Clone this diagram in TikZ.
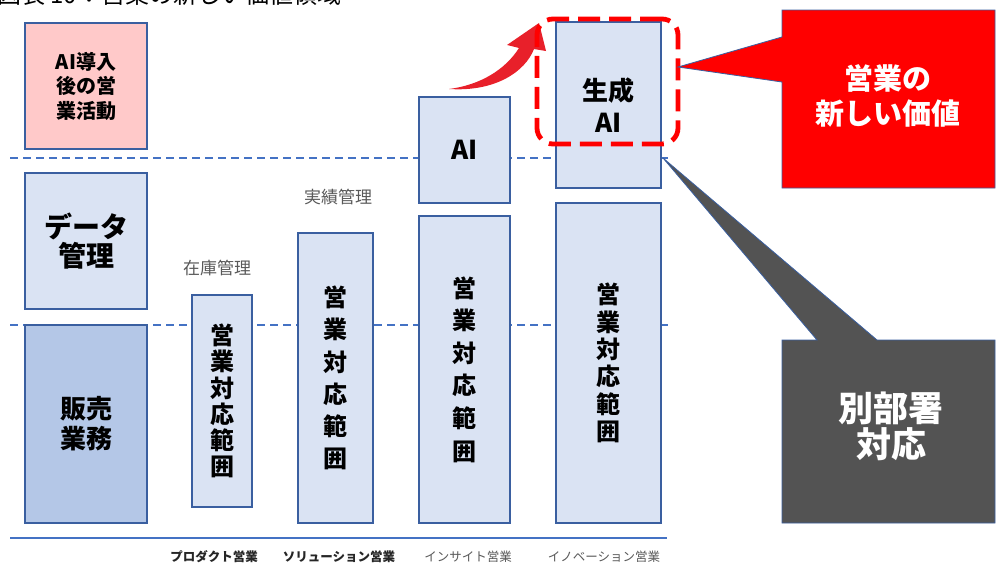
\documentclass[tikz,border=0pt]{standalone}
\usepackage{fontspec}
\setmainfont{Noto Sans CJK JP}
\definecolor{boxfill}{HTML}{DAE3F3}
\definecolor{boxdark}{HTML}{B4C7E7}
\definecolor{boxpink}{HTML}{FFC9C9}
\definecolor{boxline}{HTML}{3A5FA0}
\definecolor{guide}{HTML}{4472C4}
\definecolor{labelgray}{HTML}{595959}
\definecolor{labeldark}{HTML}{262626}
\definecolor{calloutgray}{HTML}{535353}
\definecolor{arrowred}{RGB}{232,32,42}
\tikzset{
  colbox/.style={draw=boxline, fill=boxfill, line width=1.4pt, inner sep=0pt, align=center, text=black},
  vtext/.style={font=\fontsize{24}{#1}\selectfont\bfseries},
  guideline/.style={draw=guide, line width=1.3pt, dash pattern=on 8pt off 5pt},
  baseline/.style={draw=guide, line width=2pt},
  toplabel/.style={font=\fontsize{17}{17}\selectfont, text=labelgray, inner sep=0pt},
  axislabel/.style={font=\fontsize{12.5}{12.5}\selectfont, inner sep=0pt},
  genframe/.style={draw=red, line width=4.8pt, dash pattern=on 22pt off 9pt, rounded corners=16pt, inner sep=0pt},
  calloutline/.style={draw=boxline, line width=0.8pt},
  callouttext/.style={text=white, align=center, inner sep=0pt}
}
\begin{document}
\begin{tikzpicture}[x=1pt,y=-1pt]
\useasboundingbox (0,0) rectangle (1000,565);
\clip (0,0) rectangle (1000,565);
\fill[white] (0,0) rectangle (1000,565);

% title (cut at top)
\node[anchor=base west, font=\fontsize{24}{24}\selectfont, inner sep=0pt] (title) at (-3,3) {図表 10：営業の新しい価値領域};

% guide lines
\coordinate (g1a) at (10,158); \coordinate (g1b) at (672,158);
\coordinate (g2a) at (10,325); \coordinate (g2b) at (672,325);
\coordinate (b1) at (10,538); \coordinate (b2) at (667,538);
\draw[guideline] (g1a) -- (g1b);
\draw[guideline] (g2a) -- (g2b);
\draw[baseline] (b1) -- (b2);

% left column
\node[colbox, fill=boxpink, minimum width=122pt, minimum height=126pt, font=\fontsize{20}{24.5}\selectfont\bfseries] (after) at (86,86) {AI導入\\後の営\\業活動};
\node[colbox, minimum width=122pt, minimum height=136pt, font=\fontsize{28}{29}\selectfont\bfseries] (data) at (86,241) {データ\\管理};
\node[colbox, fill=boxdark, minimum width=122pt, minimum height=198pt, font=\fontsize{26}{30}\selectfont\bfseries] (sales) at (86,424) {販売\\業務};

% product
\node[colbox, minimum width=60pt, minimum height=212pt, vtext=26.3] (prod) at (222,401) {営\\業\\対\\応\\範\\囲};
\node[toplabel] (stock) at (217,268) {在庫管理};
% solution
\node[colbox, minimum width=75pt, minimum height=290pt, vtext=32.3] (sol) at (335.5,378) {営\\業\\対\\応\\範\\囲};
\node[toplabel] (perf) at (338,197) {実績管理};
% insight
\node[colbox, minimum width=91pt, minimum height=307pt, vtext=32.6] (ins) at (464.5,369.5) {営\\業\\対\\応\\範\\囲};
\node[colbox, minimum width=91pt, minimum height=106pt, font=\fontsize{26}{26}\selectfont\bfseries] (ai) at (464.5,150) {AI};
% innovation
\node[colbox, minimum width=105pt, minimum height=320pt, vtext=27.3] (inno) at (608.5,363) {営\\業\\対\\応\\範\\囲};
\node[colbox, minimum width=105pt, minimum height=166pt, font=\fontsize{26}{32}\selectfont\bfseries] (gen) at (608.5,105) {生成\\AI};

% bottom axis labels
\node[axislabel, font=\fontsize{12.5}{12.5}\selectfont\bfseries, text=labeldark] (lp) at (214,557) {プロダクト営業};
\node[axislabel, font=\fontsize{12.5}{12.5}\selectfont\bfseries, text=labeldark] (ls) at (339,557) {ソリューション営業};
\node[axislabel, text=labelgray] (li) at (468,557) {インサイト営業};
\node[axislabel, text=labelgray] (ln) at (604,557) {イノベーション営業};

% red curved arrow
\fill[arrowred] (449,89) .. controls (480,85) and (505,70) .. (519,48)
  -- (507,45) -- (539,23) -- (546,51) -- (534,49)
  .. controls (525,72) and (495,92) .. (449,89) -- cycle;

% dashed frame around generative AI
\node[genframe, minimum width=141pt, minimum height=125pt] (frame) at (607.5,81.5) {};

% red callout
\coordinate (tipred) at (678,67);
\filldraw[calloutline, fill=red] (782,10) -- (782,37) -- (tipred) -- (782,82) -- (782,188) -- (995,188) -- (995,10) -- cycle;
\node[callouttext, font=\fontsize{29}{35}\selectfont\bfseries] (newval) at (888,96) {営業の\\新しい価値};

% gray callout
\coordinate (tipgray) at (663,158);
\filldraw[calloutline, fill=calloutgray] (782,340) -- (817,340) -- (tipgray) -- (877,340) -- (995,340) -- (995,523) -- (782,523) -- cycle;
\node[callouttext, font=\fontsize{35}{36}\selectfont\bfseries] (other) at (891,426) {別部署\\対応};
\end{tikzpicture}
\end{document}
